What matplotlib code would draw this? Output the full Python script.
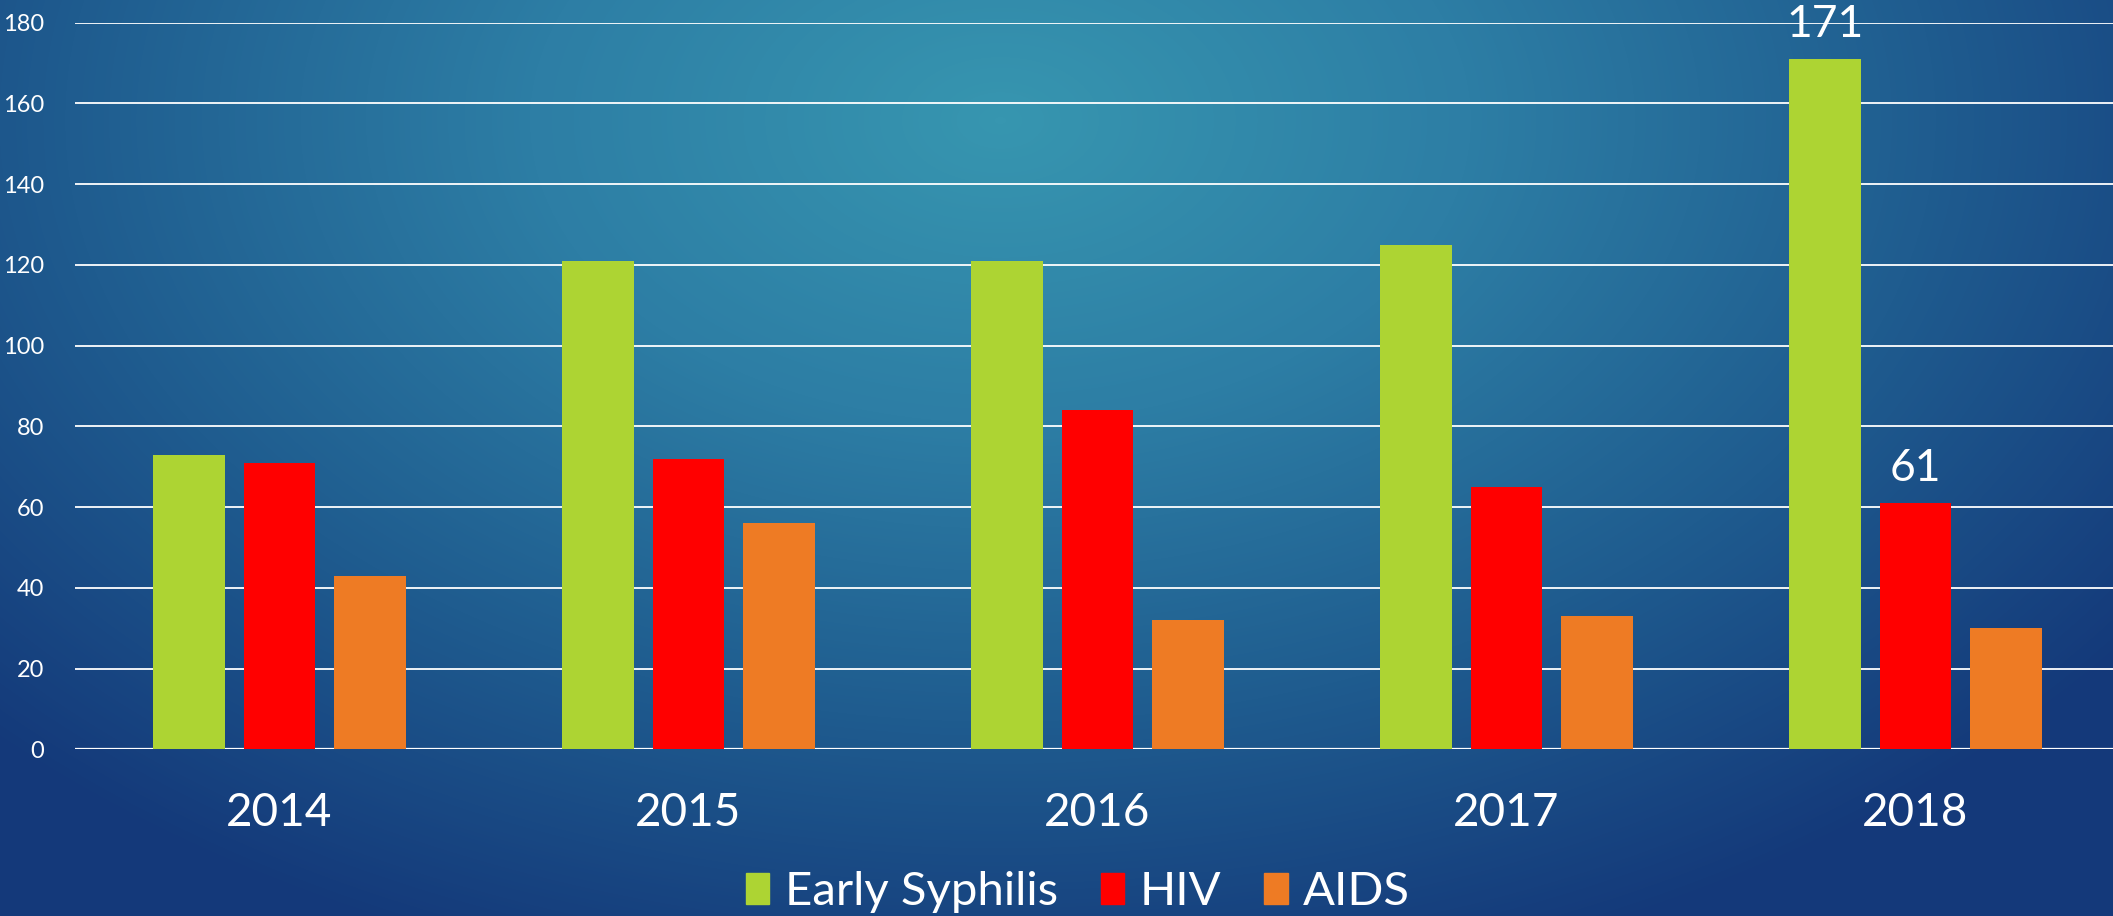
import matplotlib.pyplot as plt
import numpy as np
from matplotlib.colors import LinearSegmentedColormap
from matplotlib.patches import Patch

years = ['2014', '2015', '2016', '2017', '2018']
syphilis = [73, 121, 121, 125, 171]
hiv = [71, 72, 84, 65, 61]
aids = [43, 56, 32, 33, 30]
series = ['Early Syphilis', 'HIV', 'AIDS']
colors = ['#add433', '#ff0000', '#ee7b24']

plt.rcParams['font.family'] = ['Lato', 'DejaVu Sans']

fig = plt.figure(figsize=(21.13, 9.16), dpi=100)

# radial-ish blue background
bg = fig.add_axes([0, 0, 1, 1], zorder=-10)
bg.set_axis_off()
yy, xx = np.mgrid[0:916, 0:2113]
r = np.sqrt(((xx - 1000) / 1400.0) ** 2 + ((yy - 120) / 900.0) ** 2)
r = np.clip(r, 0, 1)
cmap = LinearSegmentedColormap.from_list('bgc', ['#3796b0', '#2d7ea5', '#1f5c8f', '#14397a'])
bg.imshow(r, cmap=cmap, aspect='auto', extent=[0, 1, 0, 1], vmin=0, vmax=1)
bg.set_xlim(0, 1)
bg.set_ylim(0, 1)

ax = fig.add_axes([75 / 2113, 1 - 749.3 / 916, 2045 / 2113, (749.3 - 22.7) / 916])
ax.patch.set_alpha(0)

x = np.arange(len(years))
off = 0.2216
w = 0.175
bars = []
for k, vals in enumerate([syphilis, hiv, aids]):
    b = ax.bar(x + (k - 1) * off, vals, w, color=colors[k], zorder=3)
    bars.append(b)

ax.set_xlim(-0.5, len(years) - 0.5)
ax.set_ylim(0, 180)
ax.set_yticks(range(0, 181, 20))
ax.grid(axis='y', color='white', lw=1.3, zorder=1)
for s in ax.spines.values():
    s.set_visible(False)
ax.axhline(0, color='white', lw=1.6, zorder=2)
ax.set_xticks(x)
ax.set_xticklabels(years)
ax.tick_params(axis='y', length=0, labelsize=17, labelcolor='white', pad=22)
ax.tick_params(axis='x', length=0, labelsize=33, labelcolor='white', pad=31)

# value labels on 2018
for b in (bars[0][4], bars[1][4]):
    ax.annotate(f'{int(b.get_height())}', (b.get_x() + b.get_width() / 2, b.get_height()),
                xytext=(0, 25), textcoords='offset points', ha='center', va='center',
                color='white', fontsize=32, zorder=4)

handles = [Patch(color=c) for c in colors]
fig.legend(handles, series, loc='center', bbox_to_anchor=(1078 / 2113, 1 - 892 / 916), ncol=3,
           frameon=False, fontsize=34, labelcolor='white',
           handlelength=0.5, handleheight=0.65, handletextpad=0.33, columnspacing=0.9)

fig.savefig('out.png', dpi=100)
